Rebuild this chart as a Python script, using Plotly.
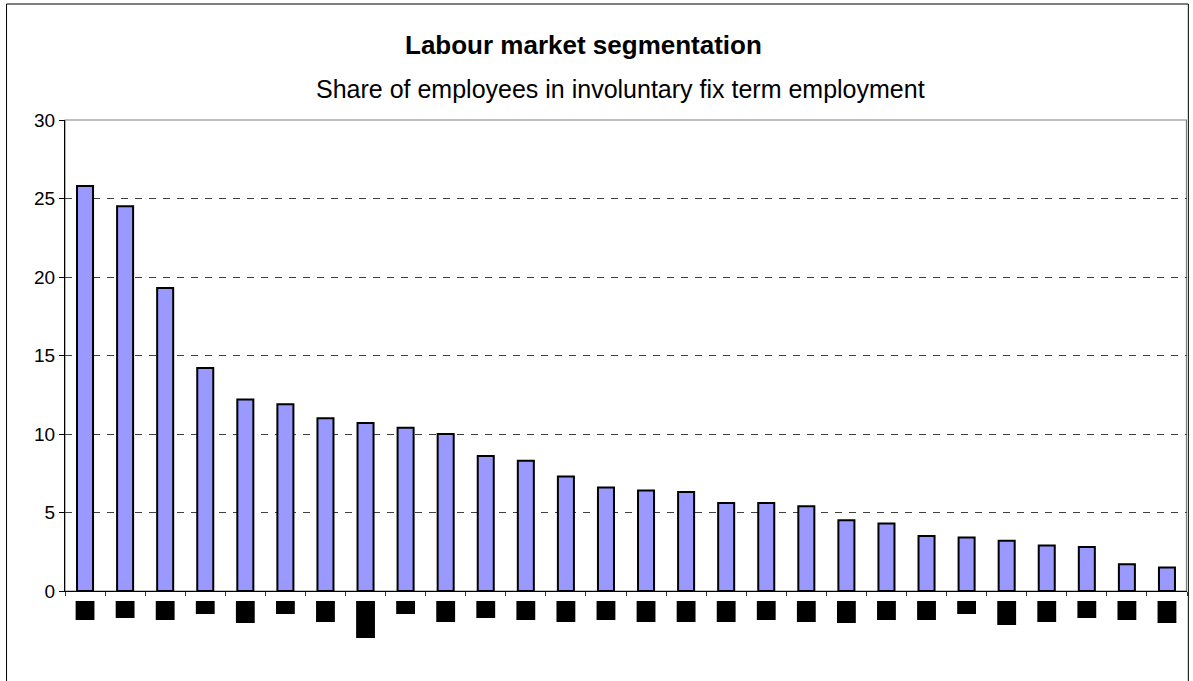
import plotly.graph_objects as go

# Share of employees in involuntary fixed-term employment, sorted descending
categories = [str(i) for i in range(1, 29)]
shares = [25.8, 24.5, 19.3, 14.2, 12.2, 11.9, 11.0, 10.7, 10.4, 10.0,
          8.6, 8.3, 7.3, 6.6, 6.4, 6.3, 5.6, 5.6, 5.4, 4.5,
          4.3, 3.5, 3.4, 3.2, 2.9, 2.8, 1.7, 1.5]
# heights (px) of the solid label blocks under each bar
label_block_px = [19, 17, 19, 13, 22, 13, 21, 37, 13, 21,
                  17, 19, 21, 19, 21, 21, 21, 19, 21, 22,
                  19, 19, 13, 24, 21, 17, 19, 22]
y_ticks = [0, 5, 10, 15, 20, 25, 30]

FONT = "Liberation Sans, Arial, sans-serif"
PLOT_TOP, PLOT_BOTTOM = 120, 591
PLOT_H = PLOT_BOTTOM - PLOT_TOP


def paper_y(px):
    return (PLOT_BOTTOM - px) / PLOT_H


fig = go.Figure()
fig.add_trace(go.Bar(
    x=categories, y=shares,
    marker=dict(color="#9999FF", line=dict(color="#000000", width=2)),
    width=0.4,
    hoverinfo="y",
))

# outer frame of the chart
fig.add_shape(type="rect", xref="paper", yref="paper",
              x0=-0.0521, x1=1.0012, y0=-0.25, y1=paper_y(4),
              line=dict(color="#000000", width=1), layer="below")
# grey plot-area border
fig.add_shape(type="rect", xref="paper", yref="paper",
              x0=0, x1=0.9995, y0=0, y1=1,
              line=dict(color="#808080", width=1.2), layer="below")

# solid blocks in place of the category labels
for i, h in enumerate(label_block_px):
    fig.add_shape(type="rect", xref="x", yref="paper",
                  x0=i - 0.235, x1=i + 0.235,
                  y0=paper_y(601), y1=paper_y(601 + h),
                  fillcolor="#000000", line=dict(width=0), layer="above")

fig.add_annotation(text="<b>Labour market segmentation</b>", xref="paper", yref="paper",
                   x=(583 - 65) / 1122, y=paper_y(45), xanchor="center", yanchor="middle",
                   showarrow=False, font=dict(family=FONT, size=26, color="#000000"))
fig.add_annotation(text="Share of employees in involuntary fix term employment",
                   xref="paper", yref="paper",
                   x=(620 - 65) / 1122, y=paper_y(89), xanchor="center", yanchor="middle",
                   showarrow=False, font=dict(family=FONT, size=25, color="#000000"))

fig.update_layout(
    width=1193, height=681,
    margin=dict(l=65, r=6, t=PLOT_TOP, b=681 - PLOT_BOTTOM),
    paper_bgcolor="#FFFFFF", plot_bgcolor="#FFFFFF",
    showlegend=False,
    font=dict(family=FONT, size=16, color="#000000"),
    xaxis=dict(
        type="category", range=[-0.5, 27.5],
        showticklabels=False, tickson="boundaries",
        ticks="outside", ticklen=4, tickcolor="#333333", tickwidth=1,
        showline=True, linecolor="#000000", linewidth=1,
        showgrid=False, zeroline=False,
    ),
    yaxis=dict(
        range=[0, 30], tickmode="array", tickvals=y_ticks,
        ticks="outside", ticklen=5, tickcolor="#000000", tickwidth=1,
        showline=True, linecolor="#000000", linewidth=1,
        showgrid=True, gridcolor="#404040", gridwidth=1, griddash="7px,7px",
        zeroline=False, tickfont=dict(family=FONT, size=19),
    ),
)

fig.write_html("out.html")
